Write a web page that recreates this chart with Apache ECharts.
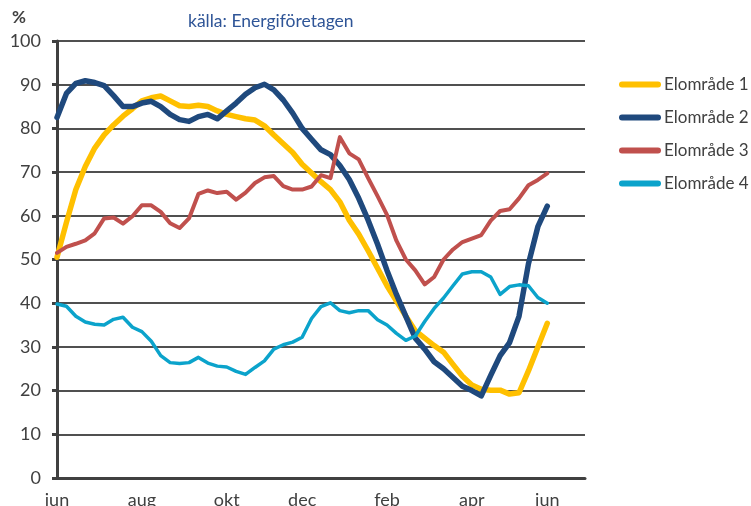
<!DOCTYPE html>
<html>
<head>
<meta charset="utf-8">
<script src="https://cdn.jsdelivr.net/npm/echarts@6/dist/echarts.min.js"></script>
<style>
  html, body { margin: 0; padding: 0; background: #fff; }
  #main { width: 751px; height: 506px; }
</style>
</head>
<body>
<div id="main"></div>
<script>
// månadsetiketter och var de sitter (veckoindex)
var monthLabels = ['jun', 'aug', 'okt', 'dec', 'feb', 'apr', 'jun'];
var monthWeek = [0, 9, 18, 26, 35, 44, 52];
var weekCount = 57;

var seriesNames = ['Elområde 1', 'Elområde 2', 'Elområde 3', 'Elområde 4'];

// fyllnadsgrad per vecka, %
var elomrade1 = [50.5, 58.5, 66, 71.3, 75.5, 78.5, 80.8, 82.8, 84.5, 86.3, 87, 87.4, 86.3, 85.2, 85, 85.3, 85, 84, 83.2, 82.7,
  82.2, 81.9, 80.6, 78.5, 76.5, 74.5, 71.8, 69.8, 67.8, 66, 63.2, 59, 55.8, 52, 48, 44, 40.5, 37, 33.7, 32,
  30.3, 28.8, 26, 23.3, 21.3, 20.3, 20.1, 20.1, 19.2, 19.5, 24.5, 30, 35.4];
var elomrade2 = [82.5, 88, 90.3, 90.9, 90.5, 89.8, 87.5, 85, 85, 85.8, 86.2, 85, 83.2, 82, 81.6, 82.7, 83.2, 82.2, 84, 85.8,
  87.8, 89.3, 90.1, 88.8, 86.5, 83.5, 80, 77.5, 75.1, 74, 71.5, 68.3, 64, 59, 53.5, 47.5, 42, 37, 32, 29.5,
  26.6, 25, 23, 21, 20, 18.8, 23.5, 28, 31, 37, 49, 57.5, 62.2];
var elomrade3 = [51.5, 52.9, 53.6, 54.4, 56, 59.4, 59.6, 58.2, 59.9, 62.4, 62.4, 60.9, 58.3, 57.2, 59.4, 65, 65.8, 65.2, 65.5, 63.7,
  65.3, 67.5, 68.8, 69.1, 66.8, 66, 66, 66.7, 69.3, 68.6, 78, 74.3, 72.9, 68.6, 64.5, 60.2, 54.3, 50, 47.5, 44.3,
  46, 50, 52.3, 54, 54.8, 55.6, 58.9, 61.1, 61.5, 64, 67, 68.2, 69.7];
var elomrade4 = [39.8, 39.3, 37, 35.7, 35.2, 35, 36.3, 36.8, 34.5, 33.5, 31.3, 28, 26.4, 26.2, 26.4, 27.6, 26.3, 25.6, 25.4, 24.4,
  23.7, 25.3, 26.8, 29.5, 30.5, 31.1, 32.2, 36.5, 39.2, 40.1, 38.3, 37.8, 38.3, 38.3, 36.2, 35, 33.1, 31.5, 32.5, 35.8,
  38.8, 41.2, 44, 46.7, 47.2, 47.2, 46, 42, 43.8, 44.2, 44, 41.3, 40];

var colors = ['#FFC000', '#1F497D', '#C0504D', '#0BA3CB'];
var widths = [5.5, 5.5, 4, 3.5];

// kategoriaxeln: en etikett per vecka, tom utom vid månaderna
var xLabels = [];
for (var i = 0; i < weekCount; i++) {
  xLabels.push('');
}
for (var m = 0; m < monthWeek.length; m++) {
  xLabels[monthWeek[m]] = monthLabels[m];
}

var fontFam = 'Lato, "Liberation Sans", sans-serif';
var legendIcon = 'path://M3,0 L39,0 A3,3 0 0 1 39,6 L3,6 A3,3 0 0 1 3,0 Z';

var chart = echarts.init(document.getElementById('main'));

var allData = [elomrade1, elomrade2, elomrade3, elomrade4];
var series = [];
for (var s = 0; s < allData.length; s++) {
  series.push({
    name: seriesNames[s],
    type: 'line',
    data: allData[s],
    showSymbol: false,
    smooth: false,
    color: colors[s],
    lineStyle: { width: widths[s], color: colors[s], cap: 'round', join: 'round' }
  });
}

var option = {
  animation: false,
  textStyle: { fontFamily: fontFam },
  title: [
    {
      text: '%',
      left: 7,
      top: 4,
      textStyle: { fontSize: 17, fontWeight: 'bold', color: '#404040', fontFamily: fontFam }
    },
    {
      text: 'källa: Energiföretagen',
      left: 183,
      top: 7,
      textStyle: { fontSize: 17.5, fontWeight: 'normal', color: '#2F5597', fontFamily: fontFam }
    }
  ],
  legend: {
    orient: 'vertical',
    left: 614,
    top: 71,
    itemWidth: 42,
    itemHeight: 6,
    itemGap: 16,
    icon: legendIcon,
    textStyle: { fontSize: 17, color: '#404040', fontFamily: fontFam, padding: [0, 0, 0, -2] },
    data: seriesNames
  },
  grid: {
    left: 57,
    right: 166,
    top: 41,
    bottom: 28,
    containLabel: false,
    outerBoundsMode: 'none'
  },
  xAxis: {
    type: 'category',
    boundaryGap: false,
    data: xLabels,
    axisLine: { lineStyle: { color: '#404040', width: 3 } },
    axisTick: { show: false },
    axisLabel: { interval: 0, margin: 13, fontSize: 18, color: '#404040' },
    splitLine: { show: false }
  },
  yAxis: {
    type: 'value',
    min: 0,
    max: 100,
    interval: 10,
    axisLine: { show: true, lineStyle: { color: '#404040', width: 3 } },
    axisTick: { show: true, length: 5, lineStyle: { color: '#404040', width: 3 } },
    axisLabel: { margin: 16, fontSize: 18, color: '#404040' },
    splitLine: { lineStyle: { color: '#505050', width: 1.8 } }
  },
  series: series
};

if (option && typeof option === 'object') {
  chart.setOption(option);
}

window.addEventListener('resize', chart.resize);
</script>
</body>
</html>
